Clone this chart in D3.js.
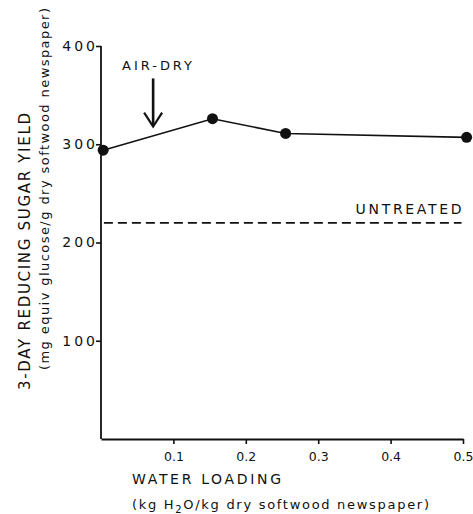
<!DOCTYPE html>
<html>
<head>
<meta charset="utf-8">
<script src="https://cdn.jsdelivr.net/npm/d3@7"></script>
<style>
  html, body { margin: 0; padding: 0; background: #fff; }
  svg { display: block; }
  text { font-family: "DejaVu Sans", sans-serif; fill: #111; }
</style>
</head>
<body>
<svg id="chart" width="473" height="514"></svg>
<script>
// Water loading (kg H2O / kg dry softwood newspaper)
const waterLoading = [0.003, 0.154, 0.255, 0.505];
// 3-day reducing sugar yield (mg equiv glucose / g dry softwood newspaper)
const sugarYield = [294, 326, 311, 307];
// Untreated reference level
const untreatedYield = 220;
// Air-dry water loading marker
const airDryLoading = 0.072;
const airDryArrowFrom = 367;
const airDryArrowTo = 318;

const xTicks = [0.1, 0.2, 0.3, 0.4, 0.5];
const xTickLabels = ["0.1", "0.2", "0.3", "0.4", "0.5"];
const yTicks = [100, 200, 300, 400];
const yTickLabels = ["100", "200", "300", "400"];

const svg = d3.select("#chart");
const ink = "#111";

const x = d3.scaleLinear().domain([0, 0.5]).range([101, 463]);
const y = d3.scaleLinear().domain([0, 400]).range([439, 46]);

// Axes
const xAxis = d3.axisBottom(x)
  .tickValues(xTicks)
  .tickFormat((d, i) => xTickLabels[i])
  .tickSizeInner(5).tickSizeOuter(0).tickPadding(8);
const gx = svg.append("g").attr("transform", `translate(0,${y(0)})`).call(xAxis);
gx.select(".domain").attr("stroke", ink).attr("stroke-width", 1.8);
gx.selectAll(".tick line").attr("stroke", ink).attr("stroke-width", 1.6);
gx.selectAll(".tick text")
  .attr("font-size", 12.5).attr("fill", ink);

const yAxis = d3.axisLeft(y)
  .tickValues(yTicks)
  .tickFormat((d, i) => yTickLabels[i])
  .tickSizeInner(5).tickSizeOuter(0).tickPadding(0);
const gy = svg.append("g").attr("transform", `translate(${x(0)},0)`).call(yAxis);
gy.select(".domain").attr("stroke", ink).attr("stroke-width", 1.8);
gy.selectAll(".tick line").attr("stroke", ink).attr("stroke-width", 1.6);
gy.selectAll(".tick text")
  .attr("font-size", 14).attr("fill", ink)
  .attr("x", -3)
  .style("letter-spacing", "3px");
// Keep the vertical axis extending to the 0 corner
gy.select(".domain").attr("d", `M0,${y(0)}V${y(400)}`);

// Untreated dashed reference line
svg.append("line")
  .attr("x1", x(0.004)).attr("x2", x(0.498))
  .attr("y1", y(untreatedYield)).attr("y2", y(untreatedYield))
  .attr("stroke", ink).attr("stroke-width", 1.7)
  .attr("stroke-dasharray", "9,5");

svg.append("text")
  .attr("x", x(0.498)).attr("y", y(untreatedYield) - 9)
  .attr("text-anchor", "end")
  .attr("font-size", 14)
  .attr("textLength", 106).attr("lengthAdjust", "spacing")
  .text("UNTREATED");

// Data line and points
const pts = waterLoading.map((w, i) => [w, sugarYield[i]]);
svg.append("path")
  .datum(pts)
  .attr("fill", "none").attr("stroke", ink).attr("stroke-width", 1.6)
  .attr("d", d3.line().x(d => x(d[0])).y(d => y(d[1])));

svg.selectAll("circle.pt")
  .data(pts).enter().append("circle")
  .attr("class", "pt")
  .attr("cx", d => x(d[0])).attr("cy", d => y(d[1]))
  .attr("r", 5.5).attr("fill", ink);

// Air-dry arrow
const ax = x(airDryLoading);
svg.append("line")
  .attr("x1", ax).attr("x2", ax)
  .attr("y1", y(airDryArrowFrom)).attr("y2", y(airDryArrowTo) - 1)
  .attr("stroke", ink).attr("stroke-width", 2.6);
svg.append("path")
  .attr("d", `M${ax - 9},${y(airDryArrowTo) - 14}L${ax},${y(airDryArrowTo)}L${ax + 9},${y(airDryArrowTo) - 14}`)
  .attr("fill", "none").attr("stroke", ink).attr("stroke-width", 2.2)
  .attr("stroke-linejoin", "miter");
svg.append("text")
  .attr("x", 122).attr("y", y(airDryArrowFrom) - 8)
  .attr("font-size", 13)
  .attr("textLength", 70).attr("lengthAdjust", "spacing")
  .text("AIR-DRY");

// X axis titles
svg.append("text")
  .attr("x", 132).attr("y", 484)
  .attr("font-size", 14)
  .attr("textLength", 149).attr("lengthAdjust", "spacing")
  .text("WATER LOADING");

const xt2 = svg.append("text")
  .attr("x", 132).attr("y", 509)
  .attr("font-size", 13)
  .attr("textLength", 297).attr("lengthAdjust", "spacing");
xt2.append("tspan").text("(kg H");
xt2.append("tspan").attr("font-size", 10).attr("dy", 4).text("2");
xt2.append("tspan").attr("dy", -4).text("O/kg dry softwood newspaper)");

// Y axis titles
svg.append("text")
  .attr("transform", "translate(30,390) rotate(-90)")
  .attr("font-size", 15)
  .attr("textLength", 277).attr("lengthAdjust", "spacing")
  .text("3-DAY REDUCING SUGAR YIELD");

svg.append("text")
  .attr("transform", "translate(49,370) rotate(-90)")
  .attr("font-size", 13)
  .attr("textLength", 362).attr("lengthAdjust", "spacing")
  .text("(mg equiv glucose/g dry softwood newspaper)");
</script>
</body>
</html>
